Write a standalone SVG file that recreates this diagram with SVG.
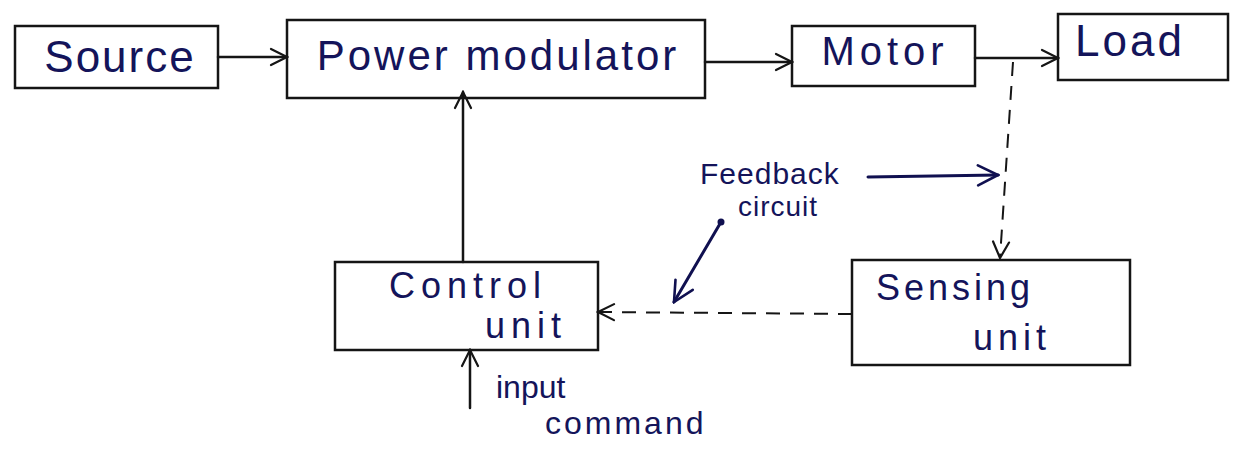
<svg xmlns="http://www.w3.org/2000/svg" width="1239" height="450" viewBox="0 0 1239 450">
<defs>
<style>
.box{fill:none;stroke:#151515;stroke-width:2.5}
.ln{fill:none;stroke:#151515;stroke-width:2.5;stroke-linecap:round}
.dash{fill:none;stroke:#151515;stroke-width:2;stroke-dasharray:14 10}
.blue{fill:none;stroke:#101050;stroke-width:3;stroke-linecap:round}
.t{font-family:"Liberation Sans",Arial,sans-serif;fill:#14145a}
</style>
<marker id="ah" viewBox="0 0 20 20" refX="18" refY="10" markerWidth="20" markerHeight="20" markerUnits="userSpaceOnUse" orient="auto">
<path d="M2,2 L18,10 L2,18" fill="none" stroke="#151515" stroke-width="2.2" stroke-linecap="round"/>
</marker>
<marker id="ahb" viewBox="0 0 24 24" refX="22" refY="12" markerWidth="24" markerHeight="24" markerUnits="userSpaceOnUse" orient="auto">
<path d="M2,2 L22,12 L2,22" fill="none" stroke="#101050" stroke-width="2.6" stroke-linecap="round"/>
</marker>
</defs>
<rect width="1239" height="450" fill="#ffffff"/>

<g id="connectors">
<line class="ln" x1="218" y1="57" x2="287" y2="57" marker-end="url(#ah)"/>
<line class="ln" x1="705" y1="62" x2="792" y2="62" marker-end="url(#ah)"/>
<line class="ln" x1="975" y1="58" x2="1058" y2="58" marker-end="url(#ah)"/>
<line class="ln" x1="463" y1="262" x2="463" y2="92" marker-end="url(#ah)"/>
<line class="ln" x1="470" y1="408" x2="470" y2="350" marker-end="url(#ah)"/>
<path class="dash" d="M1013,62 L1000,258" marker-end="url(#ah)"/>
<path class="dash" d="M852,314 L598,312" marker-end="url(#ah)"/>
</g>

<g id="source">
<rect class="box" x="15" y="26" width="203" height="62"/>
<text class="t" x="120" y="72" font-size="44" letter-spacing="2" text-anchor="middle">Source</text>
</g>
<g id="power-modulator">
<rect class="box" x="287" y="20" width="418" height="78"/>
<text class="t" x="498" y="70" font-size="42" letter-spacing="3" text-anchor="middle">Power modulator</text>
</g>
<g id="motor">
<rect class="box" x="792" y="26" width="183" height="60"/>
<text class="t" x="885" y="65" font-size="40" letter-spacing="5" text-anchor="middle">Motor</text>
</g>
<g id="load">
<rect class="box" x="1058" y="14" width="170" height="66"/>
<text class="t" x="1130" y="56" font-size="44" letter-spacing="3" text-anchor="middle">Load</text>
</g>
<g id="control-unit">
<rect class="box" x="335" y="262" width="263" height="88"/>
<text class="t" x="468" y="298" font-size="36" letter-spacing="6" text-anchor="middle">Control</text>
<text class="t" x="526" y="338" font-size="36" letter-spacing="6" text-anchor="middle">unit</text>
</g>
<g id="sensing-unit">
<rect class="box" x="852" y="260" width="278" height="105"/>
<text class="t" x="955" y="300" font-size="36" letter-spacing="4" text-anchor="middle">Sensing</text>
<text class="t" x="1012" y="350" font-size="36" letter-spacing="5" text-anchor="middle">unit</text>
</g>

<g id="feedback-label">
<text class="t" x="700" y="184" font-size="30" letter-spacing="1">Feedback</text>
<text class="t" x="738" y="216" font-size="28" letter-spacing="1">circuit</text>
<line class="blue" x1="868" y1="177" x2="998" y2="175" marker-end="url(#ahb)"/>
<circle cx="721" cy="222" r="3.5" fill="#101050"/>
<line class="blue" x1="721" y1="222" x2="674" y2="302" marker-end="url(#ahb)"/>
</g>

<g id="input-label">
<text class="t" x="496" y="398" font-size="32">input</text>
<text class="t" x="545" y="434" font-size="32" letter-spacing="3">command</text>
</g>
</svg>
